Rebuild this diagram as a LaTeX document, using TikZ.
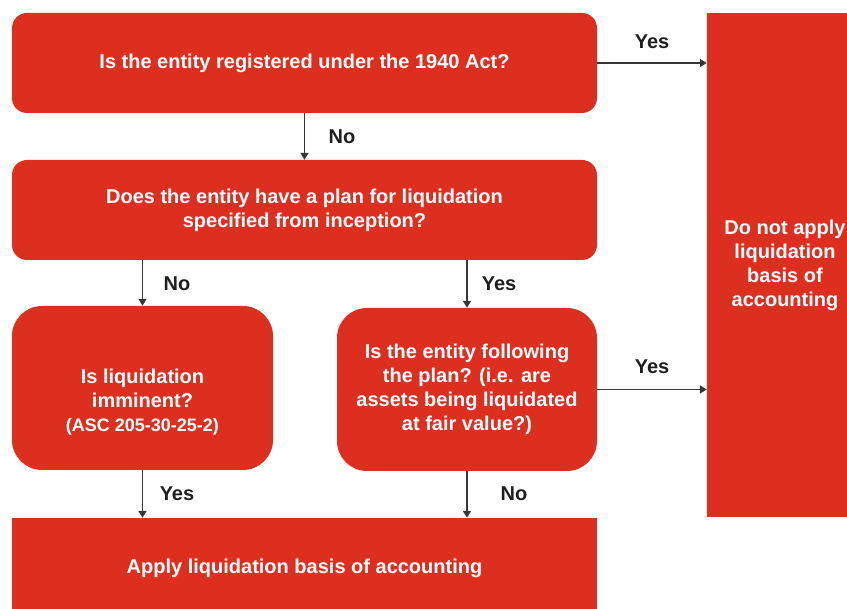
\documentclass[tikz,border=0pt]{standalone}
\usepackage{fontspec}
\setmainfont{Liberation Sans}
\usetikzlibrary{arrows.meta}
\definecolor{flowred}{RGB}{221,47,31}
\definecolor{flowink}{RGB}{30,30,30}
\definecolor{flowline}{RGB}{55,55,55}
\tikzset{
  qbox/.style={fill=flowred, text=white, align=center, inner sep=0pt,
               font=\bfseries\fontsize{20}{24}\selectfont},
  qtext/.style={text=white, align=center, inner sep=0pt,
               font=\bfseries\fontsize{20}{24}\selectfont},
  lbl/.style={text=flowink, inner sep=0pt,
               font=\bfseries\fontsize{20}{24}\selectfont},
  flow/.style={draw=flowline, line width=1.8pt,
               -{Triangle[length=7pt,width=8pt]}}
}
\begin{document}
\begin{tikzpicture}[x=1pt, y=-1pt]

        \useasboundingbox (0,0) rectangle (847,609);
        \clip (0,0) rectangle (847,609);

        %Question boxes
        \node [qbox, rounded corners=15, minimum width=585, minimum height=100] (q1) at (304.5,63)
              {Is the entity registered under the 1940 Act?};
        \node [qbox, rounded corners=15, minimum width=585, minimum height=100] (q2) at (304.5,210)
              {Does the entity have a plan for liquidation\\specified from inception?};
        \node [qbox, rounded corners=30, minimum width=261, minimum height=164] (q3) at (142.5,388) {};
        \node [qtext] (q3txt) at (142.5,402)
              {Is liquidation\\imminent?\\{\fontsize{18}{24}\selectfont(ASC 205-30-25-2)}};
        \node [qbox, rounded corners=30, minimum width=260, minimum height=163] (q4) at (467,389.5)
              {Is the entity following\\the plan? (i.e. are\\assets being liquidated\\at fair value?)};

        %Outcome boxes
        \node [qbox, minimum width=585, minimum height=100] (apply) at (304.5,568)
              {Apply liquidation basis of accounting};
        \node [qbox, minimum width=156, minimum height=504] (noapply) at (785,265)
              {Do not apply\\liquidation\\basis of\\accounting};

        %Connectors
        \draw [flow] (q1.south)             -- (q2.north);
        \draw [flow] (q2.south -| q3.north) -- (q3.north);
        \draw [flow] (q2.south -| q4.north) -- (q4.north);
        \draw [flow] (q3.south)             -- (q3.south |- apply.north);
        \draw [flow] (q4.south)             -- (q4.south |- apply.north);
        \draw [flow] (q1.east)              -- (q1.east -| noapply.west);
        \draw [flow] (q4.east)              -- (q4.east -| noapply.west);

        %Answer labels
        \node [lbl] (yes1) at (652,42)  {Yes};
        \node [lbl] (no1)  at (342,137) {No};
        \node [lbl] (no2)  at (177,284) {No};
        \node [lbl] (yes2) at (499,284) {Yes};
        \node [lbl] (yes3) at (652,367) {Yes};
        \node [lbl] (yes4) at (177,494) {Yes};
        \node [lbl] (no3)  at (514,494) {No};

\end{tikzpicture}
\end{document}
